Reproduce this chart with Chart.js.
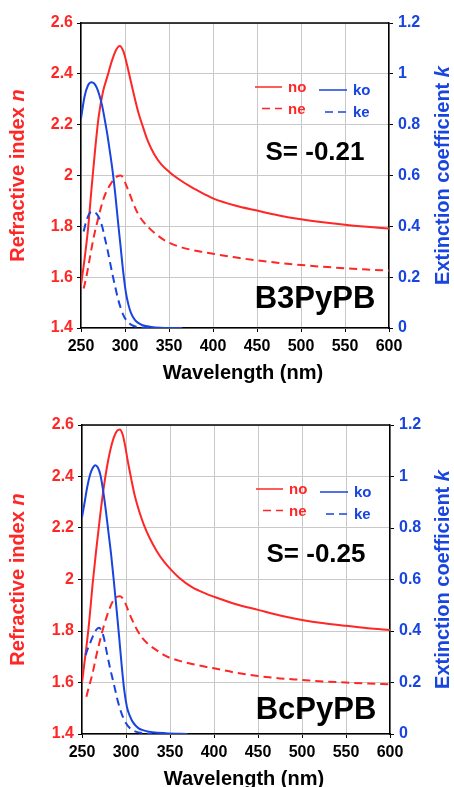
<!DOCTYPE html>
<html>
<head>
<meta charset="utf-8">
<title>Refractive index / extinction coefficient</title>
<style>
  html, body { margin: 0; padding: 0; background: #fff; overflow: hidden; }
  body { width: 454px; height: 787px; position: relative; }
  canvas { position: absolute; left: 0; }
  #chartTop { top: 0; }
  #chartBottom { top: 400px; }
</style>
</head>
<body>
<canvas id="chartTop" width="454" height="390"></canvas>
<canvas id="chartBottom" width="454" height="396"></canvas>
<script src="https://cdn.jsdelivr.net/npm/chart.js"></script>
<script>
// ---- data ----
const seriesNames = ['no', 'ne', 'ko', 'ke'];

// B3PyPB (top panel)
const wlNoA = [250, 254, 258, 262, 266, 270, 275, 280, 285, 290, 294, 298, 302, 306, 310, 315, 320, 326, 333, 341, 350, 360, 375, 390, 400, 425, 450, 475, 500, 525, 550, 575, 600];
const noA   = [1.57, 1.67, 1.79, 1.95, 2.10, 2.23, 2.33, 2.39, 2.45, 2.495, 2.51, 2.49, 2.44, 2.38, 2.32, 2.25, 2.195, 2.135, 2.085, 2.045, 2.015, 1.988, 1.955, 1.927, 1.91, 1.882, 1.862, 1.843, 1.828, 1.816, 1.806, 1.798, 1.791];
const wlNeA = [253, 256, 260, 264, 268, 272, 276, 280, 284, 288, 292, 295, 298, 301, 305, 310, 315, 320, 327, 335, 345, 360, 375, 390, 400, 425, 450, 475, 500, 525, 550, 575, 600];
const neA   = [1.555, 1.60, 1.675, 1.75, 1.81, 1.865, 1.912, 1.945, 1.968, 1.988, 1.998, 2.0, 1.99, 1.965, 1.93, 1.885, 1.848, 1.822, 1.795, 1.77, 1.745, 1.722, 1.708, 1.698, 1.692, 1.678, 1.666, 1.656, 1.648, 1.641, 1.635, 1.630, 1.626];
const wlKoA = [250, 254, 258, 262, 265, 268, 271, 274, 277, 280, 283, 286, 289, 292, 295, 298, 301, 304, 307, 311, 315, 320, 330, 340, 350, 365];
const koA   = [0.824, 0.91, 0.955, 0.967, 0.962, 0.945, 0.915, 0.875, 0.82, 0.76, 0.69, 0.615, 0.525, 0.42, 0.32, 0.22, 0.14, 0.09, 0.058, 0.033, 0.02, 0.011, 0.004, 0.001, 0, 0];
const wlKeA = [253, 256, 259, 262, 265, 268, 271, 274, 277, 280, 283, 286, 289, 292, 295, 298, 301, 305, 310, 318, 330];
const keA   = [0.38, 0.42, 0.447, 0.458, 0.457, 0.448, 0.43, 0.40, 0.355, 0.31, 0.258, 0.207, 0.16, 0.115, 0.08, 0.052, 0.033, 0.018, 0.008, 0.002, 0];

// BcPyPB (bottom panel)
const wlNoB = [250, 254, 258, 262, 266, 270, 274, 278, 282, 286, 290, 293, 296, 299, 302, 306, 310, 315, 320, 327, 335, 343, 350, 360, 375, 390, 400, 425, 450, 475, 500, 525, 550, 575, 600];
const noB   = [1.60, 1.71, 1.83, 1.98, 2.11, 2.23, 2.34, 2.43, 2.50, 2.55, 2.578, 2.583, 2.565, 2.52, 2.46, 2.39, 2.325, 2.265, 2.215, 2.16, 2.11, 2.07, 2.042, 2.008, 1.97, 1.946, 1.933, 1.904, 1.882, 1.86, 1.843, 1.83, 1.82, 1.811, 1.804];
const wlNeB = [255, 258, 262, 266, 270, 274, 278, 282, 286, 290, 293, 296, 299, 303, 307, 312, 318, 325, 335, 345, 360, 375, 400, 425, 450, 475, 500, 525, 550, 575, 600];
const neB   = [1.545, 1.585, 1.635, 1.70, 1.757, 1.81, 1.855, 1.893, 1.92, 1.933, 1.935, 1.928, 1.91, 1.875, 1.843, 1.808, 1.775, 1.75, 1.725, 1.703, 1.685, 1.672, 1.655, 1.638, 1.625, 1.616, 1.61, 1.604, 1.60, 1.596, 1.593];
const wlKoB = [250, 253, 256, 259, 262, 265, 268, 271, 274, 277, 280, 283, 286, 289, 292, 295, 298, 301, 304, 308, 314, 320, 330, 345, 370];
const koB   = [0.841, 0.90, 0.96, 1.005, 1.032, 1.044, 1.035, 1.005, 0.945, 0.87, 0.785, 0.70, 0.60, 0.495, 0.385, 0.27, 0.17, 0.106, 0.073, 0.045, 0.023, 0.014, 0.007, 0.003, 0];
const wlKeB = [254, 257, 260, 263, 266, 269, 272, 275, 278, 281, 284, 287, 290, 293, 296, 300, 305, 311, 320, 330];
const keB   = [0.306, 0.335, 0.36, 0.385, 0.404, 0.413, 0.403, 0.372, 0.32, 0.27, 0.225, 0.182, 0.137, 0.10, 0.07, 0.042, 0.021, 0.009, 0.003, 0];

// axis ranges
const wlRange = [250, 600, 50];
const nRange = [1.4, 2.6, 0.2];
const kRange = [0, 1.2, 0.2];

// ---- styling ----
const red = '#ff2626';
const blue = '#1844e0';
const fam = '"Liberation Sans", Arial, Helvetica, sans-serif';

function pts(xs, ys) {
  return xs.map((x, i) => ({ x: x, y: ys[i] }));
}

function drawRich(ctx, parts, cx, cy, rot) {
  ctx.save();
  ctx.translate(cx, cy);
  ctx.rotate(rot);
  let total = 0;
  parts.forEach(p => { ctx.font = p[1]; total += ctx.measureText(p[0]).width; });
  let x = -total / 2;
  ctx.textBaseline = 'middle';
  ctx.textAlign = 'left';
  parts.forEach(p => {
    ctx.font = p[1];
    ctx.fillStyle = p[2];
    ctx.fillText(p[0], x, 0);
    x += ctx.measureText(p[0]).width;
  });
  ctx.restore();
}

// frame, axis titles, legend and labels
const panelPlugin = {
  id: 'panel',
  afterDraw(chart, args, o) {
    const ctx = chart.ctx;
    const a = chart.chartArea;
    ctx.save();
    ctx.strokeStyle = '#000';
    ctx.lineWidth = 1.5;
    ctx.beginPath();
    ctx.moveTo(a.left, a.top);
    ctx.lineTo(a.right, a.top);
    ctx.stroke();

    const tf = 'bold 20px ' + fam;
    const ti = 'italic bold 20px ' + fam;
    const midY = (a.top + a.bottom) / 2;
    drawRich(ctx, [['Refractive index ', tf, red], ['n', ti, red]], 18.5, midY, -Math.PI / 2);
    drawRich(ctx, [['Extinction coefficient ', tf, blue], ['k', ti, blue]], 443, midY, -Math.PI / 2);
    drawRich(ctx, [['Wavelength (nm)', tf, '#000']], a.left + 162, a.bottom + 45, 0);

    // legend
    const ds = chart.data.datasets;
    o.legendSpots.forEach((s, i) => {
      ctx.save();
      ctx.strokeStyle = ds[i].borderColor;
      ctx.lineWidth = 1.5;
      ctx.setLineDash(ds[i].borderDash || []);
      ctx.beginPath();
      ctx.moveTo(a.left + s[0], a.top + s[2]);
      ctx.lineTo(a.left + s[1], a.top + s[2]);
      ctx.stroke();
      ctx.restore();
      ctx.font = 'bold 15px ' + fam;
      ctx.fillStyle = ds[i].borderColor;
      ctx.textBaseline = 'middle';
      ctx.textAlign = 'left';
      ctx.fillText(ds[i].label, a.left + s[1] + 6, a.top + s[2] + 1);
    });

    ctx.fillStyle = '#000';
    ctx.textAlign = 'center';
    ctx.textBaseline = 'middle';
    ctx.font = 'bold 26px ' + fam;
    ctx.fillText(o.sText, a.left + 234, a.top + 130);
    ctx.font = 'bold 31px ' + fam;
    ctx.fillText(o.name, a.left + 234, a.bottom - o.nameUp);
    ctx.restore();
  }
};

function makePanel(id, series, p) {
  const styles = [
    { color: red, dash: [], axis: 'yN' },
    { color: red, dash: [8, 5], axis: 'yN' },
    { color: blue, dash: [], axis: 'yK' },
    { color: blue, dash: [8, 5], axis: 'yK' }
  ];
  const datasets = series.map((s, i) => ({
    label: seriesNames[i],
    data: pts(s[0], s[1]),
    borderColor: styles[i].color,
    borderDash: styles[i].dash,
    borderWidth: 2,
    pointRadius: 0,
    cubicInterpolationMode: 'monotone',
    yAxisID: styles[i].axis,
    order: i < 2 ? 1 : 0
  }));

  new Chart(document.getElementById(id), {
    type: 'line',
    data: { datasets: datasets },
    plugins: [panelPlugin],
    options: {
      responsive: false,
      animation: false,
      events: [],
      layout: { padding: { top: p.top, left: 0, right: 0, bottom: 0 } },
      plugins: {
        legend: { display: false },
        tooltip: { enabled: false },
        panel: { name: p.name, sText: p.sText, nameUp: p.nameUp, legendSpots: p.legendSpots }
      },
      scales: {
        x: {
          type: 'linear',
          min: wlRange[0], max: wlRange[1],
          afterFit: s => { s.height = 62; },
          ticks: { stepSize: wlRange[2], color: '#000', font: { family: fam, size: 16, weight: 'bold' }, padding: 5, maxRotation: 0 },
          grid: { color: '#c9c9c9', lineWidth: 1, tickLength: 4, tickColor: '#000' },
          border: { color: '#000', width: 1.5 }
        },
        yN: {
          position: 'left',
          min: nRange[0], max: nRange[1],
          afterFit: s => { s.width = p.left; },
          ticks: { stepSize: nRange[2], color: red, font: { family: fam, size: 16, weight: 'bold' }, padding: 4,
                   callback: v => String(+v.toFixed(1)) },
          grid: { color: '#c9c9c9', lineWidth: 1, tickLength: 4, tickColor: '#000' },
          border: { color: '#000', width: 1.5 }
        },
        yK: {
          position: 'right',
          min: kRange[0], max: kRange[1],
          afterFit: s => { s.width = 454 - p.right; },
          ticks: { stepSize: kRange[2], color: blue, font: { family: fam, size: 16, weight: 'bold' }, padding: 5,
                   callback: v => String(+v.toFixed(1)) },
          grid: { drawOnChartArea: false, tickLength: 4, tickColor: '#000' },
          border: { color: '#000', width: 1.5 }
        }
      }
    }
  });
}

const legendSpots = [[174, 201, 64], [181, 201, 85.5], [238, 266, 67], [244, 266, 89]];

makePanel('chartTop',
  [[wlNoA, noA], [wlNeA, neA], [wlKoA, koA], [wlKeA, keA]],
  { top: 23, left: 81, right: 389, name: 'B3PyPB', sText: 'S= -0.21', nameUp: 29, legendSpots: legendSpots });

makePanel('chartBottom',
  [[wlNoB, noB], [wlNeB, neB], [wlKoB, koB], [wlKeB, keB]],
  { top: 25, left: 82, right: 390, name: 'BcPyPB', sText: 'S= -0.25', nameUp: 24, legendSpots: legendSpots });
</script>
</body>
</html>
